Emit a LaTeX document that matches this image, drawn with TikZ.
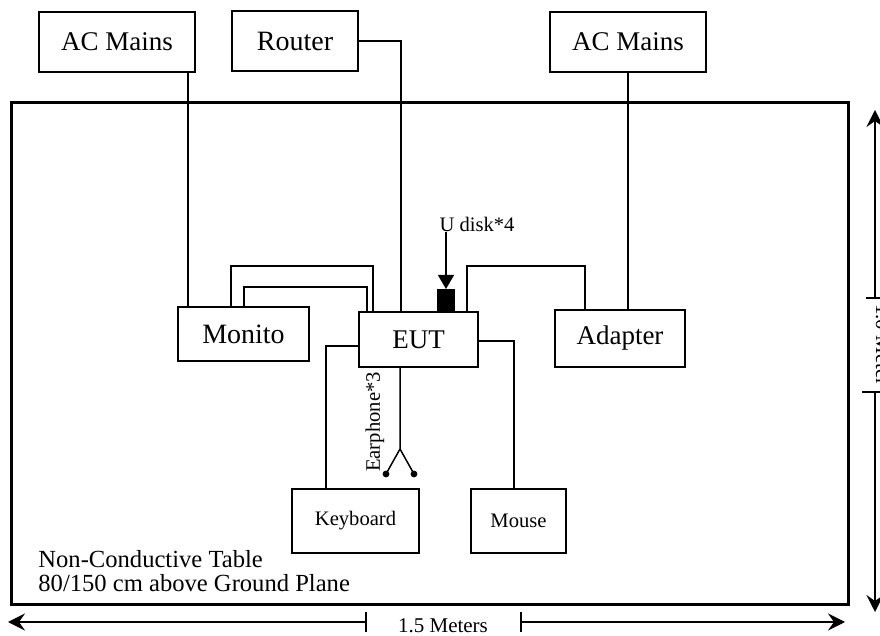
\documentclass[tikz,border=0pt]{standalone}
\usepackage{fontspec}
\setmainfont{Liberation Serif}
\usetikzlibrary{arrows.meta}

\begin{document}
\begin{tikzpicture}[
  x=0.5pt, y=-0.5pt,
  box/.style={rectangle, draw, line width=1pt, inner sep=0pt, font=\fontsize{13.5}{16}\selectfont},
  smallbox/.style={rectangle, draw, line width=1pt, inner sep=0pt, font=\fontsize{10.3}{12}\selectfont},
  wire/.style={line width=0.75pt},
  ptr/.style={line width=0.75pt, -{Triangle[length=7pt, width=8pt]}},
  dim/.style={line width=0.75pt, -{Stealth[length=8.5pt, width=8.5pt, inset=3pt]}},
  note/.style={font=\fontsize{10.3}{12}\selectfont, inner sep=0pt},
]
\useasboundingbox (0,0) rectangle (880,636);

% === Table ===
\draw[line width=1.5pt] (11,103) rectangle (848,605);

% === Boxes ===
\node[box, minimum width=78pt, minimum height=30pt] (acl) at (117,42) {AC Mains};
\node[box, minimum width=63pt, minimum height=30pt, font=\fontsize{14}{16}\selectfont] (router) at (295,41) {Router};
\node[box, minimum width=78pt, minimum height=30pt] (acr) at (628,42) {AC Mains};
\node[box, minimum width=65.5pt, minimum height=27pt, font=\fontsize{14}{16}\selectfont] (monito) at (243.5,334) {Monito};
\node[box, minimum width=59.5pt, minimum height=27.5pt] (eut) at (418.5,339.5) {EUT};
\node[box, minimum width=65pt, minimum height=28.5pt] (adapter) at (620,338.5) {Adapter};
\node[smallbox, minimum width=63.5pt, minimum height=32pt] (keyboard) at (355.5,521) {Keyboard};
\node[smallbox, minimum width=47.5pt, minimum height=32pt] (mouse) at (518.5,521) {Mouse};
\node[rectangle, fill=black, draw, line width=0.5pt, minimum width=8.5pt, minimum height=11pt, inner sep=0pt] (udisk) at (446,300.5) {};

% === Bends ===
\coordinate (cacl) at (188,0);
\coordinate (crt) at (401,0);
\coordinate (ma1) at (231,266);
\coordinate (ma2) at (373,266);
\coordinate (mb1) at (244,287);
\coordinate (mb2) at (367,287);
\coordinate (ea1) at (467,266);
\coordinate (ea2) at (585,266);
\coordinate (ek) at (326,346);
\coordinate (em) at (514,341);
\coordinate (ep) at (400,449);
\coordinate (epl) at (386,474);
\coordinate (epr) at (414,474);

% === Cables ===
\draw[wire] (acl.south -| cacl) -- (monito.north -| cacl);
\draw[wire] (router.east) -- (router.east -| crt) -- (eut.north -| crt);
\draw[wire] (monito.north -| ma1) -- (ma1) -- (ma2) -- (eut.north -| ma2);
\draw[wire] (monito.north -| mb1) -- (mb1) -- (mb2) -- (eut.north -| mb2);
\draw[wire] (eut.north -| ea1) -- (ea1) -- (ea2) -- (adapter.north -| ea2);
\draw[wire] (acr.south) -- (adapter.north -| acr.south);
\draw[wire] (eut.west |- ek) -- (ek) -- (keyboard.north -| ek);
\draw[wire] (eut.east |- em) -- (em) -- (mouse.north -| em);
\draw[wire] (eut.south -| ep) -- (ep) -- (epl);
\draw[wire] (ep) -- (epr);
\fill (epl) circle[radius=1.7pt];
\fill (epr) circle[radius=1.7pt];

% === Labels ===
\node[note] (ulab) at (477,224) {U disk*4};
\draw[ptr] (ulab.south -| udisk.north) -- (udisk.north);
\node[note, rotate=90] (earlab) at (375,422) {Earphone*3};
\node[note, font=\fontsize{12.3}{12}\selectfont, align=left, anchor=west] (tablab) at (38,571)
  {Non-Conductive Table\\[0pt]80/150 cm above Ground Plane};

% === Dimensions ===
\coordinate (hl) at (8,622);
\coordinate (hlt) at (366,622);
\coordinate (hrt) at (521,622);
\coordinate (hr) at (845,622);
\draw[dim] (hlt) -- (hl);
\draw[dim] (hrt) -- (hr);
\draw[wire] ([yshift=5pt]hlt) -- ([yshift=-5pt]hlt);
\draw[wire] ([yshift=5pt]hrt) -- ([yshift=-5pt]hrt);
\node[note, font=\fontsize{10.5}{12}\selectfont] (hlab) at (443,626) {1.5 Meters};

\coordinate (vt) at (875,110);
\coordinate (vtt) at (875,298);
\coordinate (vbt) at (875,392);
\coordinate (vb) at (875,612);
\draw[dim] (vtt) -- (vt);
\draw[dim] (vbt) -- (vb);
\draw[wire] ([xshift=-4.5pt]vtt) -- ([xshift=4.5pt]vtt);
\draw[wire] ([xshift=-6.5pt]vbt) -- ([xshift=4.5pt]vbt);
\node[note, rotate=-90, font=\fontsize{10.5}{12}\selectfont] (vlab) at (883,345) {1.0 Meter};

\end{tikzpicture}
\end{document}
